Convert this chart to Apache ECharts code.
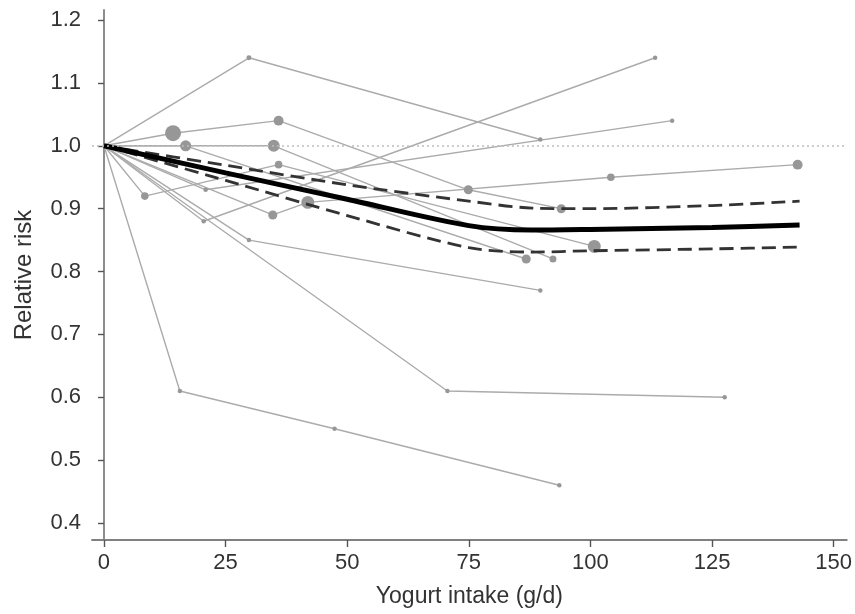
<!DOCTYPE html>
<html>
<head>
<meta charset="utf-8">
<script src="https://cdn.jsdelivr.net/npm/echarts@6/dist/echarts.min.js"></script>
<style>
html,body{margin:0;padding:0;background:#fff;}
#chart{width:855px;height:614px;}
</style>
</head>
<body>
<div id="chart"></div>
<script>
// study level points: intake (g/d), relative risk, relative weight (0 = reference, no marker)
var s1X = [0, 29.8, 89.7],              s1Y = [1, 1.14, 1.01],               s1W = [0, 1.4, 1];
var s2X = [0, 20.9, 116.8],             s2Y = [1, 0.93, 1.04],               s2W = [0, 1, 1];
var s3X = [0, 20.5, 113.3],             s3Y = [1, 0.88, 1.14],               s3W = [0, 1, 1];
var s4X = [0, 14.2, 35.9, 74.9, 94.0],  s4Y = [1, 1.02, 1.04, 0.93, 0.90],   s4W = [0, 31, 10, 8, 8];
var s5X = [0, 34.7, 41.9, 104.2, 142.6],s5Y = [1, 0.89, 0.91, 0.95, 0.97],   s5W = [0, 8, 19, 5, 10];
var s6X = [0, 8.4, 35.9, 100.8],        s6Y = [1, 0.92, 0.97, 0.84],         s6W = [0, 5, 5, 19];
var s7X = [0, 16.8, 86.8],              s7Y = [1, 1.00, 0.82],               s7W = [0, 13, 8];
var s8X = [0, 34.9, 92.3],              s8Y = [1, 1.00, 0.82],               s8W = [0, 16, 4];
var s9X = [0, 29.8, 89.7],              s9Y = [1, 0.85, 0.77],               s9W = [0, 1, 1];
var s10X = [0, 15.6, 47.4, 93.6],       s10Y = [1, 0.61, 0.55, 0.46],        s10W = [0, 1, 1, 1];
var s11X = [0, 70.6, 127.6],            s11Y = [1, 0.61, 0.60],              s11W = [0, 1, 1];

// pooled dose-response curve with 95% CI
var doseX  = [0, 25, 50, 75, 88, 100, 125, 143];
var rr     = [1, 0.957, 0.915, 0.873, 0.866, 0.867, 0.870, 0.874];
var rrLow  = [1, 0.945, 0.889, 0.838, 0.831, 0.833, 0.836, 0.839];
var rrHigh = [1, 0.969, 0.938, 0.912, 0.901, 0.900, 0.905, 0.912];

var xTicks = [0, 25, 50, 75, 100, 125, 150];
var yTicks = [0.4, 0.5, 0.6, 0.7, 0.8, 0.9, 1.0, 1.1, 1.2];

var studyList = [
    [s1X, s1Y, s1W], [s2X, s2Y, s2W], [s3X, s3Y, s3W], [s4X, s4Y, s4W],
    [s5X, s5Y, s5W], [s6X, s6Y, s6W], [s7X, s7Y, s7W], [s8X, s8Y, s8W],
    [s9X, s9Y, s9W], [s10X, s10Y, s10W], [s11X, s11Y, s11W]
];

var zip = function(xs, ys, ws){
    var out = [];
    for (var i = 0; i < xs.length; i++) {
        out.push(ws ? [xs[i], ys[i], ws[i]] : [xs[i], ys[i]]);
    }
    return out;
};

var series = [];
studyList.forEach(function(s, i){
    series.push({
        type: 'line',
        data: zip(s[0], s[1], s[2]),
        symbol: 'circle',
        symbolSize: function(v){ return v[2] > 0 ? 2.5 * Math.sqrt(v[2]) + 2 : 0; },
        showSymbol: true,
        lineStyle: { color: '#ababab', width: 1.4 },
        itemStyle: { color: '#979797', borderWidth: 0 },
        z: 2,
        silent: true,
        animation: false,
        markLine: i === 0 ? {
            silent: true,
            symbol: 'none',
            label: { show: false },
            lineStyle: { color: '#bdbdbd', type: [2, 3], width: 1.5 },
            data: [{ yAxis: 1 }]
        } : undefined
    });
});

var dashed = function(ys){
    return {
        type: 'line',
        data: zip(doseX, ys),
        smooth: 0.3,
        showSymbol: false,
        lineStyle: { color: '#333', width: 2.8, type: [14, 7] },
        z: 3,
        animation: false
    };
};
series.push(dashed(rrLow));
series.push(dashed(rrHigh));
series.push({
    type: 'line',
    data: zip(doseX, rr),
    smooth: 0.3,
    showSymbol: false,
    lineStyle: { color: '#000', width: 5 },
    z: 4,
    animation: false
});

var txt = { fontFamily: 'Liberation Sans', fontSize: 22, color: '#333' };

var chart = echarts.init(document.getElementById('chart'));
chart.setOption({
    backgroundColor: '#fff',
    animation: false,
    grid: { left: 92, right: 7, top: 10, bottom: 74 },
    xAxis: {
        type: 'value',
        min: -2.46, max: 152.7,
        name: 'Yogurt intake (g/d)',
        nameLocation: 'middle',
        nameGap: 45,
        nameTextStyle: { fontFamily: 'Liberation Sans', fontSize: 23, color: '#333' },
        axisLine: { show: true, lineStyle: { color: '#808080', width: 1.8 } },
        axisTick: { show: true, length: 7, customValues: xTicks, lineStyle: { color: '#555', width: 1.4 } },
        axisLabel: { customValues: xTicks, margin: 12, fontFamily: txt.fontFamily, fontSize: txt.fontSize, color: txt.color },
        splitLine: { show: false }
    },
    yAxis: {
        type: 'value',
        min: 0.373, max: 1.216,
        name: 'Relative risk',
        nameLocation: 'middle',
        nameGap: 56,
        nameTextStyle: { fontFamily: 'Liberation Sans', fontSize: 24, color: '#333' },
        axisLine: { show: true, lineStyle: { color: '#808080', width: 1.8 } },
        axisTick: { show: true, length: 6, customValues: yTicks, lineStyle: { color: '#555', width: 1.4 } },
        axisLabel: {
            customValues: yTicks, margin: 11,
            fontFamily: txt.fontFamily, fontSize: txt.fontSize, color: txt.color,
            formatter: function(v){ return v.toFixed(1); }
        },
        splitLine: { show: false }
    },
    series: series
});
</script>
</body>
</html>
